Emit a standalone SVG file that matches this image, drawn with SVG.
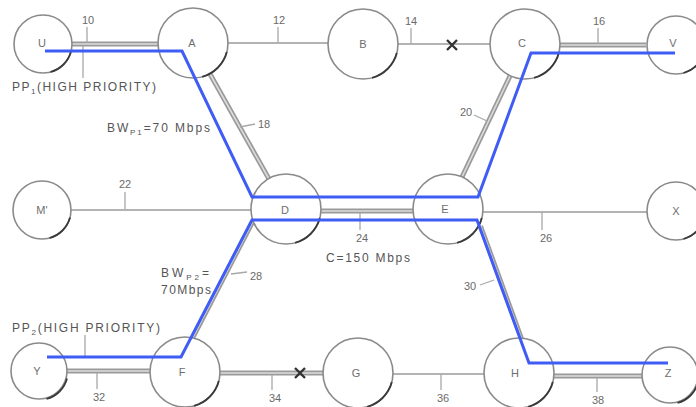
<svg xmlns="http://www.w3.org/2000/svg" xmlns:xlink="http://www.w3.org/1999/xlink" width="696" height="407" viewBox="0 0 696 407">
  <style>
    .node { fill: #ffffff; stroke: #8a8a8a; stroke-width: 1.6; }
    .shade { fill: none; stroke: #3a3a3a; stroke-width: 1.8; }
    .nlabel { font-family: "Liberation Sans", Arial, sans-serif; font-size: 11px; fill: #6e6e6e; text-anchor: middle; dominant-baseline: central; }
    .single { fill: none; stroke: #9a9a9a; stroke-width: 1.6; }
    .dbl { fill: none; stroke: #9a9a9a; stroke-width: 5; }
    .dbl-in { fill: none; stroke: #dcdcdc; stroke-width: 1.6; }
    .tick { fill: none; stroke: #a8a8a8; stroke-width: 1.3; }
    .num { font-family: "Liberation Sans", Arial, sans-serif; font-size: 11px; fill: #6a6a6a; text-anchor: middle; dominant-baseline: central; }
    .note { font-family: "Liberation Sans", Arial, sans-serif; font-size: 12px; fill: #555; }
    .cut { fill: none; stroke: #333; stroke-width: 2.4; }
    .path { fill: none; stroke: #3f5cf5; stroke-width: 3; stroke-linejoin: miter; }
  </style>
  <defs>
    <path id="arcL" class="shade" d="M33.8,9.1 A35,35 0 0 1 9.1,33.8"/>
    <path id="arcS" class="shade" d="M28,7.5 A29,29 0 0 1 7.5,28"/>
  </defs>

  <!-- links between switches -->
  <g id="connectors">
    <!-- U-A -->
    <line class="dbl" x1="72" y1="44" x2="158" y2="44"/>
    <line class="dbl-in" x1="72" y1="44" x2="158" y2="44"/>
    <!-- A-B -->
    <line class="single" x1="228" y1="43" x2="328" y2="43"/>
    <!-- B-C (cut) -->
    <line class="single" x1="398" y1="44" x2="490" y2="44"/>
    <!-- C-V -->
    <line class="dbl" x1="560" y1="45" x2="646" y2="45"/>
    <line class="dbl-in" x1="560" y1="45" x2="646" y2="45"/>
    <!-- A-D -->
    <line class="dbl" x1="210" y1="74" x2="269" y2="179"/>
    <line class="dbl-in" x1="210" y1="74" x2="269" y2="179"/>
    <!-- C-E -->
    <line class="dbl" x1="510" y1="76" x2="462" y2="177"/>
    <line class="dbl-in" x1="510" y1="76" x2="462" y2="177"/>
    <!-- M'-D -->
    <line class="single" x1="71" y1="210" x2="251" y2="210"/>
    <!-- D-E -->
    <line class="dbl" x1="321" y1="211" x2="413" y2="211"/>
    <line class="dbl-in" x1="321" y1="211" x2="413" y2="211"/>
    <!-- E-X -->
    <line class="single" x1="483" y1="212" x2="647" y2="212"/>
    <!-- D-F -->
    <line class="dbl" x1="191.5" y1="340" x2="252.5" y2="222"/>
    <line class="dbl-in" x1="191.5" y1="340" x2="252.5" y2="222"/>
    <!-- E-H -->
    <line class="dbl" x1="480.5" y1="226" x2="522" y2="340"/>
    <line class="dbl-in" x1="480.5" y1="226" x2="522" y2="340"/>
    <!-- Y-F -->
    <line class="dbl" x1="67" y1="371" x2="150" y2="371"/>
    <line class="dbl-in" x1="67" y1="371" x2="150" y2="371"/>
    <!-- F-G (cut) -->
    <line class="dbl" x1="220" y1="373" x2="323" y2="373"/>
    <line class="dbl-in" x1="220" y1="373" x2="323" y2="373"/>
    <!-- G-H -->
    <line class="single" x1="393" y1="374" x2="484" y2="374"/>
    <!-- H-Z -->
    <line class="dbl" x1="554" y1="376" x2="643" y2="376"/>
    <line class="dbl-in" x1="554" y1="376" x2="643" y2="376"/>

    <!-- link failures -->
    <path class="cut" d="M447,40 L457,50 M457,40 L447,50"/>
    <path class="cut" d="M295,368 L305,378 M305,368 L295,378"/>

    <!-- reference ticks and numbers -->
    <line class="tick" x1="87" y1="27" x2="87" y2="43"/>
    <text class="num" x="88" y="20">10</text>
    <line class="tick" x1="278" y1="27" x2="278" y2="43"/>
    <text class="num" x="279" y="20">12</text>
    <line class="tick" x1="411" y1="28" x2="411" y2="44"/>
    <text class="num" x="411" y="21">14</text>
    <line class="tick" x1="598" y1="28" x2="598" y2="44"/>
    <text class="num" x="599" y="21">16</text>
    <line class="tick" x1="240" y1="127" x2="255" y2="124"/>
    <text class="num" x="264" y="124">18</text>
    <line class="tick" x1="487" y1="121" x2="474" y2="115"/>
    <text class="num" x="466" y="112">20</text>
    <line class="tick" x1="125" y1="192" x2="125" y2="209"/>
    <text class="num" x="125" y="184">22</text>
    <line class="tick" x1="360" y1="213" x2="360" y2="230"/>
    <text class="num" x="362" y="238">24</text>
    <line class="tick" x1="542" y1="212" x2="542" y2="230"/>
    <text class="num" x="546" y="238">26</text>
    <line class="tick" x1="231" y1="274" x2="247" y2="272"/>
    <text class="num" x="256" y="276">28</text>
    <line class="tick" x1="494" y1="280" x2="480" y2="285"/>
    <text class="num" x="470" y="286">30</text>
    <line class="tick" x1="97" y1="373" x2="97" y2="389"/>
    <text class="num" x="99" y="397">32</text>
    <line class="tick" x1="272" y1="375" x2="272" y2="390"/>
    <text class="num" x="275" y="398">34</text>
    <line class="tick" x1="441" y1="374" x2="441" y2="390"/>
    <text class="num" x="443" y="398">36</text>
    <line class="tick" x1="597" y1="378" x2="597" y2="392"/>
    <text class="num" x="598" y="400">38</text>

    <!-- path label ticks -->
    <line class="tick" x1="83" y1="46" x2="83" y2="78"/>
    <line class="tick" x1="85" y1="335" x2="85" y2="356"/>
  </g>

  <!-- switches -->
  <g id="node-U"><circle class="node" cx="43" cy="44" r="29"/><use xlink:href="#arcS" x="43" y="44"/><text class="nlabel" x="42" y="43">U</text></g>
  <g id="node-A"><circle class="node" cx="193" cy="43" r="35"/><use xlink:href="#arcL" x="193" y="43"/><text class="nlabel" x="192" y="43">A</text></g>
  <g id="node-B"><circle class="node" cx="363" cy="44" r="35"/><use xlink:href="#arcL" x="363" y="44"/><text class="nlabel" x="363" y="44">B</text></g>
  <g id="node-C"><circle class="node" cx="525" cy="44" r="35"/><use xlink:href="#arcL" x="525" y="44"/><text class="nlabel" x="522" y="43">C</text></g>
  <g id="node-V"><circle class="node" cx="676" cy="45" r="29"/><use xlink:href="#arcS" x="676" y="45"/><text class="nlabel" x="673" y="43">V</text></g>
  <g id="node-M"><circle class="node" cx="42" cy="210" r="29"/><use xlink:href="#arcS" x="42" y="210"/><text class="nlabel" x="42" y="210">M'</text></g>
  <g id="node-D"><circle class="node" cx="286" cy="209" r="35"/><use xlink:href="#arcL" x="286" y="209"/><text class="nlabel" x="285" y="210">D</text></g>
  <g id="node-E"><circle class="node" cx="448" cy="209" r="35"/><use xlink:href="#arcL" x="448" y="209"/><text class="nlabel" x="445" y="209">E</text></g>
  <g id="node-X"><circle class="node" cx="676" cy="211" r="29"/><use xlink:href="#arcS" x="676" y="211"/><text class="nlabel" x="676" y="211">X</text></g>
  <g id="node-Y"><circle class="node" cx="39" cy="371" r="28"/><use xlink:href="#arcS" x="39" y="371"/><text class="nlabel" x="37" y="371">Y</text></g>
  <g id="node-F"><circle class="node" cx="185" cy="372" r="35"/><use xlink:href="#arcL" x="185" y="372"/><text class="nlabel" x="182" y="372">F</text></g>
  <g id="node-G"><circle class="node" cx="358" cy="373" r="35"/><use xlink:href="#arcL" x="358" y="373"/><text class="nlabel" x="356" y="373">G</text></g>
  <g id="node-H"><circle class="node" cx="519" cy="373" r="35"/><use xlink:href="#arcL" x="519" y="373"/><text class="nlabel" x="515" y="373">H</text></g>
  <g id="node-Z"><circle class="node" cx="670" cy="375" r="28"/><use xlink:href="#arcS" x="670" y="375"/><text class="nlabel" x="668" y="373">Z</text></g>

  <!-- high priority paths -->
  <g id="paths">
    <polyline class="path" points="45,51 182,51 252,197 478,197 531,53 675,53"/>
    <polyline class="path" points="47,357 181,357 252,220 477,220 529,363 668,363"/>
  </g>

  <!-- annotations -->
  <g id="notes">
    <text class="note" x="12" y="91" textLength="144" lengthAdjust="spacing">PP<tspan font-size="8" dy="3">1</tspan><tspan dy="-3">(HIGH PRIORITY)</tspan></text>
    <text class="note" x="107" y="132" textLength="103" lengthAdjust="spacing">BW<tspan font-size="8" dy="3">P1</tspan><tspan dy="-3">=70 Mbps</tspan></text>
    <text class="note" x="326" y="262" textLength="84" lengthAdjust="spacing">C=150 Mbps</text>
    <text class="note" x="161" y="277" textLength="48" lengthAdjust="spacing">BW<tspan font-size="8" dy="3">P2</tspan><tspan dy="-3">=</tspan></text>
    <text class="note" x="161" y="294" textLength="50" lengthAdjust="spacing">70Mbps</text>
    <text class="note" x="12" y="332" textLength="148" lengthAdjust="spacing">PP<tspan font-size="8" dy="3">2</tspan><tspan dy="-3">(HIGH PRIORITY)</tspan></text>
  </g>
</svg>
